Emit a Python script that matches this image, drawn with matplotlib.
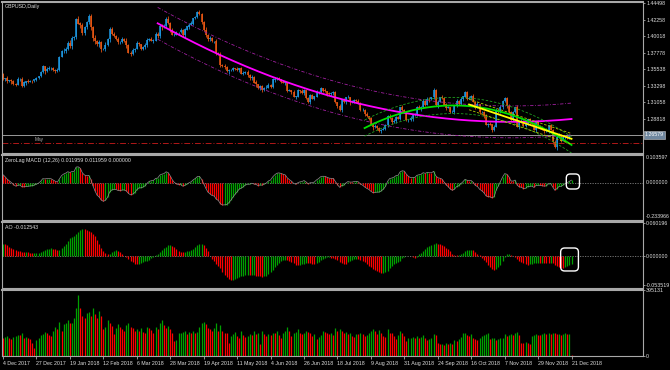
import numpy as np
import pandas as pd
import matplotlib
matplotlib.use("Agg")
import matplotlib.pyplot as plt
from matplotlib.patches import FancyBboxPatch
from matplotlib.transforms import blended_transform_factory, IdentityTransform

plt.rcParams['font.family'] = ['Liberation Sans', 'DejaVu Sans']

# ---------------- data ----------------
symbol_title = "GBPUSD,Daily"
macd_title = "ZeroLag MACD (12,26) 0.011959 0.011959 0.000000"
ao_title = "AO -0.012543"
hline_label = "May"

holidays = ["2017-12-25", "2018-01-01"]

close_dec17 = [1.3415, 1.3425, 1.3390, 1.3400, 1.3385, 1.3350, 1.3340, 1.3415, 1.3420, 1.3325,
               1.3370, 1.3385, 1.3380, 1.3390, 1.3385, 1.3410, 1.3430, 1.3455, 1.3510]
close_jan18 = [1.3590, 1.3520, 1.3555, 1.3565, 1.3570, 1.3535, 1.3530, 1.3540, 1.3720, 1.3795,
               1.3800, 1.3830, 1.3900, 1.3865, 1.3970, 1.3990, 1.4230, 1.4170, 1.4150, 1.4040,
               1.4120, 1.4190]
close_feb18 = [1.4270, 1.4120, 1.3970, 1.3930, 1.3890, 1.3920, 1.3820, 1.3825, 1.3880, 1.3960,
               1.4100, 1.4030, 1.4000, 1.3965, 1.3920, 1.3925, 1.3960, 1.3930, 1.3875, 1.3775]
close_mar18 = [1.3760, 1.3810, 1.3830, 1.3905, 1.3890, 1.3825, 1.3850, 1.3880, 1.3950, 1.3960,
               1.3940, 1.3940, 1.4030, 1.4000, 1.4140, 1.4120, 1.4140, 1.4235, 1.4180, 1.4080,
               1.4020, 1.4020]
close_apr18 = [1.4050, 1.4050, 1.4085, 1.4010, 1.4090, 1.4130, 1.4155, 1.4170, 1.4240, 1.4260,
               1.4330, 1.4300, 1.4190, 1.4080, 1.4020, 1.3960, 1.3975, 1.3930, 1.3930, 1.3775,
               1.3760]
close_may18 = [1.3610, 1.3590, 1.3580, 1.3520, 1.3540, 1.3545, 1.3560, 1.3550, 1.3540, 1.3560,
               1.3490, 1.3500, 1.3510, 1.3470, 1.3430, 1.3450, 1.3370, 1.3345, 1.3290, 1.3320,
               1.3270, 1.3300, 1.3300]
close_jun18 = [1.3340, 1.3310, 1.3410, 1.3420, 1.3430, 1.3410, 1.3380, 1.3370, 1.3370, 1.3260,
               1.3260, 1.3240, 1.3180, 1.3180, 1.3260, 1.3250, 1.3230, 1.3260, 1.3160, 1.3100,
               1.3200]
close_jul18 = [1.3150, 1.3180, 1.3240, 1.3240, 1.3290, 1.3260, 1.3250, 1.3220, 1.3210, 1.3230,
               1.3240, 1.3100, 1.3050, 1.3000, 1.3140, 1.3100, 1.3170, 1.3170, 1.3100, 1.3110,
               1.3130, 1.3120]
close_aug18 = [1.3090, 1.3000, 1.3000, 1.2940, 1.2910, 1.2880, 1.2800, 1.2760, 1.2780, 1.2750,
               1.2710, 1.2730, 1.2740, 1.2790, 1.2920, 1.2890, 1.2830, 1.2850, 1.2900, 1.2880,
               1.3030, 1.3000, 1.2970]
close_sep18 = [1.2860, 1.2860, 1.2880, 1.2930, 1.2930, 1.3040, 1.3020, 1.3040, 1.3120, 1.3070,
               1.3150, 1.3140, 1.3170, 1.3270, 1.3060, 1.3110, 1.3170, 1.3160, 1.3070, 1.3030]
close_oct18 = [1.3030, 1.2970, 1.2970, 1.3050, 1.3120, 1.3080, 1.3150, 1.3180, 1.3240, 1.3150,
               1.3160, 1.3190, 1.3110, 1.3030, 1.3070, 1.2970, 1.2970, 1.2910, 1.2800, 1.2810,
               1.2800, 1.2720, 1.2770]
close_nov18 = [1.3000, 1.2970, 1.3040, 1.3120, 1.3160, 1.3050, 1.2970, 1.2860, 1.2970, 1.3030,
               1.2770, 1.2830, 1.2850, 1.2780, 1.2820, 1.2870, 1.2820, 1.2810, 1.2730, 1.2840,
               1.2780, 1.2760]
close_dec18 = [1.2730, 1.2710, 1.2720, 1.2790, 1.2730, 1.2560, 1.2490, 1.2630, 1.2660, 1.2580,
               1.2630, 1.2640, 1.2620, 1.2655, 1.26579]

# closes before the visible window (indicator history)
warmup_close = [1.3260, 1.3180, 1.3220, 1.3190, 1.3190, 1.3200, 1.3210, 1.3270, 1.3130, 1.3130,
                1.3270, 1.3280, 1.3280, 1.3060, 1.3080, 1.3160, 1.3150, 1.3190, 1.3120, 1.3190,
                1.3120, 1.3130, 1.3190, 1.3220, 1.3230, 1.3230, 1.3260, 1.3310, 1.3330, 1.3330,
                1.3340, 1.3420, 1.3480, 1.3525, 1.3480]

# wick lengths above / below the body, in units of 10 pips, one string per month
wick_up = ["2131221312213120112", "2123112312423531242321", "33242312423231213242",
           "2313212321322313224132", "213121231213224132131", "21312121312213121312213",
           "212312132121312132121", "2131213121221312131212", "21213121312132121312131",
           "21312131212313121312", "21312131213121312131213", "2131213121312131213121",
           "213121312131210"]
wick_dn = ["1221312122131021211", "1312213221332242314232", "24332431324212322131",
           "3121321232131223122312", "121231312121213231232", "31213121231213221312312",
           "121321213212131213212", "1213121312312131213121", "12131213121312312131212",
           "12131213121312131213", "12131213121312131213121", "1213121312131213121312",
           "121312131213110"]

# tick volume, thousands
vol_dec17 = [105, 112, 118, 108, 100, 115, 120, 128, 125, 135, 110, 115, 108, 102, 80, 45, 95, 110, 125]
vol_jan18 = [130, 145, 140, 125, 120, 150, 175, 160, 205, 150, 190, 200, 215, 195, 200, 230, 290, 365,
             290, 240, 230, 255]
vol_feb18 = [265, 240, 285, 250, 230, 270, 240, 160, 175, 215, 200, 180, 130, 170, 190, 175, 160, 150,
             185, 195]
vol_mar18 = [175, 165, 150, 160, 150, 170, 145, 135, 175, 165, 155, 140, 175, 160, 200, 215, 185, 170,
             180, 160, 140, 90]
vol_apr18 = [95, 135, 140, 145, 150, 130, 145, 140, 150, 140, 145, 175, 195, 205, 190, 170, 160, 150,
             165, 200, 150]
vol_may18 = [185, 150, 140, 135, 80, 120, 130, 145, 120, 110, 150, 125, 115, 120, 130, 125, 150, 130,
             135, 70, 150, 130, 120]
vol_jun18 = [130, 125, 140, 135, 150, 125, 110, 140, 150, 175, 150, 120, 140, 145, 160, 135, 130, 140,
             150, 145, 140]
vol_jul18 = [120, 130, 100, 115, 125, 150, 145, 135, 130, 140, 125, 165, 150, 160, 150, 140, 145, 130,
             140, 120, 115, 130]
vol_aug18 = [130, 140, 130, 120, 125, 135, 150, 160, 150, 130, 155, 140, 120, 115, 160, 140, 135, 120,
             100, 125, 150, 135, 120]
vol_sep18 = [90, 105, 110, 115, 105, 120, 110, 115, 125, 105, 95, 100, 110, 130, 125, 75, 70, 72, 68, 75]
vol_oct18 = [72, 78, 70, 95, 90, 100, 115, 135, 140, 125, 120, 130, 105, 100, 95, 110, 120, 125, 130,
             135, 100, 105, 110]
vol_nov18 = [95, 100, 105, 110, 130, 120, 125, 130, 125, 135, 142, 125, 80, 75, 85, 80, 70, 120, 125,
             130, 128, 125]
vol_dec18 = [130, 135, 132, 138, 130, 140, 135, 130, 132, 128, 133, 135, 130, 132, 3]

price_ticks = [1.44498, 1.42258, 1.40018, 1.37778, 1.35538, 1.33298, 1.31058, 1.28818]
price_now = 1.26579
price_line_red = 1.2549
macd_tick_labels = ["0.103597", "0.000000", "-0.233966"]
ao_ticks = [0.060196, 0.0, -0.053519]
vol_ticks = [395131, 0]

# ---------------- assemble ----------------
dates = pd.bdate_range("2017-12-04", "2018-12-21")
dates = dates[~dates.isin(pd.to_datetime(holidays))]
closes = np.array(close_dec17 + close_jan18 + close_feb18 + close_mar18 + close_apr18 + close_may18 +
                  close_jun18 + close_jul18 + close_aug18 + close_sep18 + close_oct18 + close_nov18 +
                  close_dec18)
n = len(closes)
assert n == len(dates), (n, len(dates))
opens = np.r_[warmup_close[-1], closes[:-1]]
up = np.array([int(c) for c in "".join(wick_up)]) * 0.001
dn = np.array([int(c) for c in "".join(wick_dn)]) * 0.001
highs = np.maximum(opens, closes) + up
lows = np.minimum(opens, closes) - dn
volume = np.array(vol_dec17 + vol_jan18 + vol_feb18 + vol_mar18 + vol_apr18 + vol_may18 + vol_jun18 +
                  vol_jul18 + vol_aug18 + vol_sep18 + vol_oct18 + vol_nov18 + vol_dec18) * 1000.0
assert len(volume) == n and len(up) == n and len(dn) == n

x = np.arange(n)
nw = len(warmup_close)
full_close = pd.Series(np.r_[warmup_close, closes])
full_med = pd.Series(np.r_[warmup_close, (highs + lows) / 2])


def ema(s, p):
    return s.ewm(span=p, adjust=False).mean()


macd_line = ema(full_close, 12) - ema(full_close, 26)
hist_full = (macd_line - ema(macd_line, 9)).values
ao_full = (full_med.rolling(5, min_periods=1).mean() - full_med.rolling(34, min_periods=1).mean()).values
macd = hist_full[nw:]
ao = ao_full[nw:]
macd_up = np.diff(hist_full)[nw - 1:] > 0
ao_up = np.diff(ao_full)[nw - 1:] > 0
vol_up = np.r_[False, np.diff(volume) > 0]

# ---------------- figure ----------------
W, H = 670, 370
fig = plt.figure(figsize=(W / 100, H / 100), dpi=100, facecolor='black')


def add_ax(top, bottom):
    return fig.add_axes([2 / W, 1 - bottom / H, 641 / W, (bottom - top) / H], facecolor='black')


ax_p = add_ax(2, 153)
ax_m = add_ax(155, 220)
ax_a = add_ax(222, 288)
ax_v = add_ax(290, 356)
axes = [ax_p, ax_m, ax_a, ax_v]

GREY = '#A8A8A8'
TXT = '#E0E0E0'
FS = 3.75
for ax in axes:
    ax.set_xlim(-0.48, 306.2)
    for s in ax.spines.values():
        s.set_color(GREY)
        s.set_linewidth(0.8)
    ax.spines['top'].set_linewidth(1.5)
    ax.yaxis.tick_right()
    ax.tick_params(axis='y', colors=GREY, labelcolor=TXT, labelsize=FS, length=1.5, width=0.6, pad=0.8)
    ax.tick_params(axis='x', bottom=False, labelbottom=False)

# ---- price panel ----
bull = '#1E9BE6'
bear = '#F05A14'
ccol = np.where(closes >= opens, bull, bear)
ax_p.vlines(x, lows, highs, colors=ccol, linewidth=0.55)
ax_p.vlines(x, np.minimum(opens, closes), np.maximum(opens, closes) + 0.0002, colors=ccol, linewidth=1.1)
ax_p.set_ylim(1.24135, 1.44634)
ax_p.set_yticks(price_ticks)
ax_p.set_yticklabels([f"{v:.5f}" for v in price_ticks])
ax_p.axhline(price_now, color='#9A9A9A', lw=0.7)
ax_p.axhline(price_line_red, color='#B01818', lw=0.7, ls=(0, (6, 2, 1, 2)))
bt = blended_transform_factory(ax_p.transAxes, ax_p.transData)
ax_p.text(1.003, price_now, f"{price_now:.5f}", transform=bt, fontsize=FS, color='white',
          va='center', ha='left',
          bbox=dict(boxstyle='square,pad=0.2', fc='#6F879F', ec='#C8C8C8', lw=0.4))
ax_p.text(15, price_line_red + 0.0012, hline_label, fontsize=FS - 0.3, color='#B0B0B0', va='bottom')
ax_p.text(0.004, 0.985, symbol_title, transform=ax_p.transAxes, fontsize=FS, color=TXT, va='top')


def channel(start, deg, k):
    xs = np.arange(start, n)
    coef = np.polyfit(xs, closes[start:], deg)
    fit = np.polyval(coef, xs)
    sd = np.std(closes[start:] - fit)
    return xs, fit, fit + k * sd, fit - k * sd


xs, c, u, l = channel(74, 2, 1.3)
ax_p.plot(xs, c, color='#FF00FF', lw=1.3)
ax_p.plot(xs, u, color='#A020A0', lw=0.6, ls=(0, (4, 2, 1, 2)))
ax_p.plot(xs, l, color='#A020A0', lw=0.6, ls=(0, (4, 2, 1, 2)))

xs, c, u, l = channel(173, 2, 1.1)
ax_p.plot(xs, c, color='#00E000', lw=1.3)
ax_p.plot(xs, u, color='#20A020', lw=0.6, ls=(0, (3, 2)))
ax_p.plot(xs, l, color='#20A020', lw=0.6, ls=(0, (3, 2)))

xs, c, u, l = channel(223, 1, 0.7)
ax_p.plot(xs, c, color='#FFFF00', lw=1.3)
ax_p.plot(xs, u, color='#B4C800', lw=0.6, ls=(0, (3, 2)))
ax_p.plot(xs, l, color='#B4C800', lw=0.6, ls=(0, (3, 2)))

# ---- MACD panel ----
GREEN = '#00A000'
RED = '#FF0000'
BAR_LW = 0.9
ax_m.axhline(0, color='#808080', lw=0.6, ls=(0, (1.5, 1.5)))
ax_m.vlines(x, 0, macd, colors=np.where(macd_up, GREEN, RED), linewidth=BAR_LW)
ax_m.plot(x, macd, color='#909090', lw=0.5)
k = np.max(np.abs(macd)) / 22.0
ax_m.set_ylim(-37 * k, 28 * k)
ax_m.set_yticks([])
mb = blended_transform_factory(ax_m.transAxes, ax_m.transData)
ax_m.text(1.004, 0, macd_tick_labels[1], transform=mb, fontsize=FS, color=TXT, va='center')
ax_m.text(1.004, 0.965, macd_tick_labels[0], transform=ax_m.transAxes, fontsize=FS, color=TXT, va='center')
ax_m.text(1.004, 0.055, macd_tick_labels[2], transform=ax_m.transAxes, fontsize=FS, color=TXT, va='center')
ax_m.text(0.004, 0.955, macd_title, transform=ax_m.transAxes, fontsize=FS, color=TXT, va='top')

# ---- AO panel ----
ax_a.axhline(0, color='#808080', lw=0.6, ls=(0, (1.5, 1.5)))
ax_a.vlines(x, 0, ao, colors=np.where(ao_up, GREEN, RED), linewidth=BAR_LW)
ax_a.set_ylim(-0.0585, 0.0620)
ax_a.set_yticks(ao_ticks)
ax_a.set_yticklabels([f"{v:.6f}" for v in ao_ticks])
ax_a.text(0.004, 0.955, ao_title, transform=ax_a.transAxes, fontsize=FS, color=TXT, va='top')

# ---- Volume panel ----
ax_v.vlines(x, 0, volume, colors=np.where(vol_up, GREEN, RED), linewidth=BAR_LW)
ax_v.set_ylim(0, vol_ticks[0])
ax_v.set_yticks(vol_ticks)
ax_v.set_yticklabels([str(v) for v in vol_ticks])
tick_idx = np.arange(0, n, 16)
ax_v.set_xticks(tick_idx)
ax_v.set_xticklabels([f"{dates[i].day} {dates[i].strftime('%b %Y')}" for i in tick_idx])
ax_v.tick_params(axis='x', bottom=True, labelbottom=True, colors=GREY, labelcolor=TXT,
                 labelsize=FS, length=2, width=0.6, pad=1.5)
for lb in ax_v.get_xticklabels():
    lb.set_ha('left')


# ---- highlight boxes ----
def round_box(ax, x0, x1, f0, f1):
    tr = blended_transform_factory(ax.transData, ax.transAxes)
    (px0, py0) = tr.transform((x0, f0))
    (px1, py1) = tr.transform((x1, f1))
    fig.add_artist(FancyBboxPatch((px0, py0), px1 - px0, py1 - py0,
                                  boxstyle="round,pad=0,rounding_size=4",
                                  transform=IdentityTransform(), fill=False,
                                  edgecolor='white', linewidth=1.0))


round_box(ax_m, 269.5, 275.8, 0.477, 0.708)
round_box(ax_a, 266.8, 275.3, 0.258, 0.606)

fig.savefig("out.png", dpi=100, facecolor='black')
